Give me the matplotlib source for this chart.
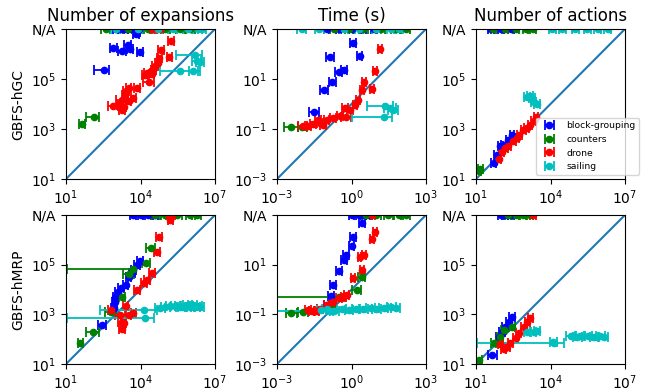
import matplotlib.pyplot as plt

# Each point: (x, y, err) or (x, y, err_lo, err_hi); errors are multiplicative
# factors on x (bar goes from x/err_lo to x*err_hi). y = None -> N/A (not solved).
names = ['block-grouping', 'counters', 'drone', 'sailing']
colors = ['b', 'g', 'r', 'c']

# ---- GBFS-hGC, number of expansions
gc_exp_blocks = [(350, 2.3e5, 2.5, 1.6), (810, 1.7e6, 1.4), (1800, 1.3e6, 1.4), (3000, 2.3e6, 1.4),
                 (3800, 1.6e6, 1.3), (9300, 1.2e6, 1.3), (6600, 6.3e6, 1.3), (7100, 7.9e6, 1.3),
                 (1000, None, 1.3), (1600, None, 1.3), (2500, None, 1.3), (4000, None, 1.3),
                 (6000, None, 1.3), (9000, None, 1.3)]
gc_exp_counters = [(130, 2900, 2.0, 1.6), (44, 1550, 1.3), (400, None, 1.5), (3000, None, 1.5),
                   (2e4, None, 1.5), (1e5, None, 1.5), (4e5, None, 1.5), (1e6, None, 1.5)]
gc_exp_drone = [(1.7e5, 3.2e6, 1.3), (1.45e5, 7.6e5, 1.3), (6.8e4, 1.4e6, 1.3), (5.8e4, 6.9e5, 1.3),
                (4.9e4, 4.4e5, 1.3), (3.9e4, 3.2e5, 1.3), (3.3e4, 2.3e5, 1.3), (2.8e4, 1.6e5, 1.3),
                (1.8e4, 1.8e5, 1.3), (1.55e4, 1.5e5, 1.3), (2.1e4, 7.9e4, 1.6), (7100, 4.4e4, 1.3),
                (3300, 4.4e4, 1.3), (2400, 2.3e4, 1.3), (2600, 3.2e4, 1.3), (5200, 1.7e4, 1.3),
                (1800, 1.5e4, 1.8), (1500, 9300, 1.3), (2100, 7900, 1.3), (810, 8500, 1.6),
                (1800, 5900, 1.3), (3300, 1.3e4, 1.3), (3e4, None, 1.3), (6e4, None, 1.3)]
gc_exp_sailing = [(1.55e6, 9.3e5, 5.9, 1.9), (1.8e6, 5.1e5, 1.5), (2.5e6, 4.7e5, 1.4),
                  (3.9e5, 2.1e5, 6.3, 6.5), (1.35e6, 2.1e5, 1.5), (1000, None, 1.5),
                  (8000, None, 1.5), (5e4, None, 1.5), (2e5, None, 1.5), (8e5, None, 1.5),
                  (2e6, None, 1.5), (3e6, None, 1.5)]

# ---- GBFS-hGC, time (s)
gc_time_blocks = [(0.03, 0.46, 1.6), (0.078, 3.7, 1.4), (0.17, 7.8, 1.4), (0.3, 19.5, 1.4),
                  (0.5, 22, 1.3), (0.135, 74, 1.5), (1.17, 270, 1.3), (2.1, 85, 1.3),
                  (0.1, None, 1.3), (0.3, None, 1.3), (1.0, None, 1.3), (3.0, None, 1.3),
                  (8, None, 1.3)]
gc_time_counters = [(0.0038, 0.115, 1.9), (0.0105, 0.115, 1.5), (0.2, None, 1.5), (0.8, None, 1.5),
                    (3, None, 1.5), (15, None, 1.5), (60, None, 1.5), (150, None, 1.5)]
gc_time_drone = [(14, 160, 1.2), (8.9, 21, 1.2), (6.5, 4.0, 1.2), (3.3, 7.9, 1.2), (2.6, 3.5, 1.2),
                 (1.85, 1.5, 1.2), (1.4, 0.93, 1.2), (0.87, 0.59, 1.3), (0.55, 0.68, 1.3),
                 (0.6, 0.3, 1.6), (0.34, 0.34, 1.3), (0.18, 0.27, 1.3), (0.1, 0.23, 1.3),
                 (0.054, 0.18, 1.3), (0.029, 0.155, 1.3), (0.018, 0.135, 1.3),
                 (0.011, 0.135, 1.5), (0.072, 0.148, 1.3), (0.046, 0.22, 1.3)]
gc_time_sailing = [(19.5, 0.3, 19, 2.1), (22, 0.85, 5, 2.2), (36, 0.68, 1.8), (46, 0.59, 1.6),
                   (0.01, None, 1.5), (0.05, None, 1.5), (0.5, None, 1.5), (2, None, 1.5),
                   (10, None, 1.5), (40, None, 1.5), (80, None, 1.5)]

# ---- GBFS-hGC, number of actions
gc_act_blocks = [(280, 575, 1.25), (200, 360, 1.25), (130, 230, 1.25), (95, 200, 1.25),
                 (69, 91, 1.25), (51, 43, 1.25), (40, None, 1.3), (100, None, 1.3), (250, None, 1.3)]
gc_act_counters = [(13, 21, 1.25), (15, 25, 1.25), (50, None, 1.3), (150, None, 1.3),
                   (400, None, 1.3), (1000, None, 1.3), (2000, None, 1.3)]
gc_act_drone = [(2600, 2950, 1.25), (2100, 2000, 1.25), (1500, 1500, 1.25), (1100, 1070, 1.25),
                (810, 930, 1.25), (560, 575, 1.25), (450, 430, 1.25), (320, 320, 1.25),
                (200, 200, 1.25), (150, 170, 1.25), (110, 115, 1.25), (81, 62, 1.25)]
gc_act_sailing = [(1100, 1.9e4, 1.3), (1500, 2.0e4, 1.3), (2100, 1.15e4, 1.3), (2800, 1.0e4, 1.3),
                  (1800, 1.7e4, 1.3), (1.2e4, None, 1.4), (3e4, None, 1.4), (1e5, None, 1.4),
                  (3e5, None, 1.4), (8e5, None, 1.4), (2e6, None, 1.4)]

# ---- GBFS-hMRP, number of expansions
mrp_exp_blocks = [(280, 380, 1.4), (830, 1800, 1.3), (980, 5200, 1.3), (1200, 8300, 1.3),
                  (1600, 1.1e4, 1.3), (2500, 1.55e4, 1.3), (3300, 3.3e4, 1.3), (4600, 4.5e4, 1.3),
                  (5200, 6.2e4, 1.3), (7200, 9.8e4, 1.3), (9800, 1.45e5, 1.3), (900, 3200, 1.3),
                  (5000, None, 1.3), (1e4, None, 1.3), (2e4, None, 1.3), (4e4, None, 1.3)]
mrp_exp_counters = [(38, 69, 1.3), (120, 200, 1.8), (620, 1300, 1.6), (1800, 5200, 1.3),
                    (3300, 4.3e4, 1.6), (5000, 6.8e4, 460, 1.35), (1.65e4, 1.15e5, 1.5),
                    (2.6e4, 4.6e5, 1.5), (4e4, None, 1.5), (1e5, None, 1.5), (3e5, None, 1.5),
                    (1e6, None, 1.5), (1.8e6, None, 1.5)]
mrp_exp_drone = [(1.6e5, 6.3e6, 1.3), (5.4e4, 1.35e6, 1.3), (4.6e4, 3.2e5, 1.3), (2.9e4, 4.8e4, 1.3),
                 (1.8e4, 2.5e4, 1.3), (1.4e4, 1.8e4, 1.3), (7200, 9800, 1.3), (2500, 2100, 1.3),
                 (5200, 1100, 1.3), (3300, 950, 1.3), (1800, 510, 1.5), (2100, 450, 1.3),
                 (1800, 260, 1.3), (1550, 950, 1.6), (620, 1500, 1.3), (1.4e5, None, 1.3),
                 (1.8e5, None, 1.3)]
mrp_exp_sailing = [(1.55e4, 710, 1400, 2.2), (1.35e4, 1500, 56, 3.4), (6.3e4, 1800, 1.6),
                   (1e5, 2000, 1.5), (1.6e5, 2100, 1.5), (2.5e5, 2200, 1.5), (4e5, 2000, 1.5),
                   (6.3e5, 2200, 1.5), (1e6, 2000, 1.5), (1.25e6, 2400, 1.5), (1.6e6, 1900, 1.5),
                   (2e6, 2200, 1.5), (2.2e6, 2000, 1.6), (5e5, 1900, 1.5), (8e5, 2300, 1.5)]

# ---- GBFS-hMRP, time (s)
mrp_time_blocks = [(0.1, 0.24, 1.3), (0.15, 0.55, 1.3), (0.18, 1.5, 1.3), (0.31, 5.5, 1.3),
                   (0.5, 16, 1.3), (0.6, 25, 1.3), (1.0, 59, 1.3), (1.17, 135, 1.3),
                   (2.6, 490, 1.3), (1, None, 1.3), (2, None, 1.3), (3, None, 1.3), (5, None, 1.3)]
mrp_time_counters = [(2.6, 3.3, 1.4), (1.6, 0.95, 1.5), (0.3, 0.51, 300, 1.6), (0.16, 0.17, 1.4),
                     (0.011, 0.12, 1.6), (0.0038, 0.11, 1.7), (4, None, 1.5), (10, None, 1.5),
                     (30, None, 1.5), (80, None, 1.5), (150, None, 1.5)]
mrp_time_drone = [(8.9, 210, 1.2), (6.5, 105, 1.2), (3.2, 25, 1.2), (2.1, 21, 1.2), (2.6, 6.2, 1.2),
                  (1.17, 2.8, 1.2), (0.63, 0.6, 1.3), (0.47, 0.51, 1.3), (0.32, 0.45, 1.3),
                  (0.1, 0.24, 1.3), (0.054, 0.16, 1.3), (0.039, 0.14, 1.3), (0.025, 0.135, 1.3),
                  (0.018, 0.15, 1.3), (0.18, 0.32, 1.3), (7, None, 1.3)]
mrp_time_sailing = [(0.135, 0.135, 135, 1.3), (0.06, 0.15, 1.5), (0.1, 0.16, 1.5), (0.2, 0.14, 1.5),
                    (0.4, 0.16, 1.5), (0.8, 0.15, 1.5), (1.5, 0.17, 1.5), (3, 0.16, 1.5),
                    (6, 0.18, 1.5), (10, 0.17, 1.5), (20, 0.18, 1.5), (40, 0.19, 1.5),
                    (60, 0.18, 1.5)]

# ---- GBFS-hMRP, number of actions
mrp_act_blocks = [(45, 22, 1.5), (83, 125, 1.3), (112, 200, 1.3), (150, 320, 1.3), (210, 500, 1.3),
                  (280, 760, 1.3), (100, None, 1.3), (150, None, 1.3), (250, None, 1.3)]
mrp_act_counters = [(13, 15, 1.3), (51, 68, 1.3), (95, 117, 1.3), (130, 235, 1.3), (280, 320, 1.3),
                    (200, None, 1.3), (400, None, 1.3), (800, None, 1.3), (1500, None, 1.3)]
mrp_act_drone = [(1550, 690, 1.25), (1150, 500, 1.25), (830, 320, 1.25), (520, 170, 1.25),
                 (390, 107, 1.25), (245, 68, 1.25), (180, 50, 1.25), (130, 40, 1.25),
                 (95, 62, 1.25), (2000, None, 1.3)]
mrp_act_sailing = [(1150, 200, 1.3), (2100, 200, 1.3), (2900, 215, 1.3), (1.4e4, 68, 1300, 2.5),
                   (1.3e4, 75, 1.4), (6.5e4, 140, 1.5), (1.2e5, 125, 1.5), (1.6e5, 140, 1.5),
                   (3.2e5, 135, 1.5), (5.6e5, 125, 1.5), (1e6, 130, 1.5), (1.4e6, 125, 1.5)]

count_ticks = [1e1, 1e4, 1e7]
count_labels = ['$10^{1}$', '$10^{4}$', '$10^{7}$']
count_yticks = [1e1, 1e3, 1e5, 1e7]
count_ylabels = ['$10^{1}$', '$10^{3}$', '$10^{5}$', 'N/A']
time_ticks = [1e-3, 1e0, 1e3]
time_labels = ['$10^{-3}$', '$10^{0}$', '$10^{3}$']
time_yticks = [1e-3, 1e-1, 1e1, 1e3]
time_ylabels = ['$10^{-3}$', '$10^{-1}$', '$10^{1}$', 'N/A']


def draw(ax, series, lo, hi, xt, xl, yt, yl):
    ax.plot([lo, hi], [lo, hi], color='C0', lw=1.5, zorder=1)
    for pts, col, name in zip(series, colors, names):
        xs, ys, el, eh = [], [], [], []
        for p in pts:
            x, y, f = p[0], p[1], p[2]
            g = p[3] if len(p) > 3 else f
            xs.append(x)
            ys.append(hi if y is None else y)
            el.append(x - x / f)
            eh.append(x * g - x)
        ax.errorbar(xs, ys, xerr=[el, eh], fmt='o', color=col, ms=4.5, capsize=3.5,
                    elinewidth=1.3, capthick=1.3, label=name, zorder=2)
    ax.set_xscale('log')
    ax.set_yscale('log')
    ax.set_xlim(lo, hi)
    ax.set_ylim(lo, hi)
    ax.set_xticks(xt)
    ax.set_xticklabels(xl)
    ax.set_yticks(yt)
    ax.set_yticklabels(yl)
    ax.minorticks_off()


fig = plt.figure(figsize=(6.5, 3.92), dpi=100)
lefts = [66 / 650, 277 / 650, 476 / 650]
w = 149 / 650
rows = [(213 / 392, 150 / 392), (28 / 392, 149 / 392)]

panels = [
    [([gc_exp_blocks, gc_exp_counters, gc_exp_drone, gc_exp_sailing], 'count'),
     ([gc_time_blocks, gc_time_counters, gc_time_drone, gc_time_sailing], 'time'),
     ([gc_act_blocks, gc_act_counters, gc_act_drone, gc_act_sailing], 'count')],
    [([mrp_exp_blocks, mrp_exp_counters, mrp_exp_drone, mrp_exp_sailing], 'count'),
     ([mrp_time_blocks, mrp_time_counters, mrp_time_drone, mrp_time_sailing], 'time'),
     ([mrp_act_blocks, mrp_act_counters, mrp_act_drone, mrp_act_sailing], 'count')],
]
titles = ['Number of expansions', 'Time (s)', 'Number of actions']
row_labels = ['GBFS-hGC', 'GBFS-hMRP']

axes = []
for r, (b, h) in enumerate(rows):
    for c in range(3):
        ax = fig.add_axes([lefts[c], b, w, h])
        series, kind = panels[r][c]
        if kind == 'count':
            draw(ax, series, 1e1, 1e7, count_ticks, count_labels, count_yticks, count_ylabels)
        else:
            draw(ax, series, 1e-3, 1e3, time_ticks, time_labels, time_yticks, time_ylabels)
        if r == 0:
            ax.set_title(titles[c], fontsize=12)
        if c == 0:
            ax.set_ylabel(row_labels[r])
        axes.append(ax)

axes[2].legend(loc='lower right', bbox_to_anchor=(1.094, 0.027), borderaxespad=0,
               fontsize=6.7)

fig.savefig('out.png', dpi=100)
